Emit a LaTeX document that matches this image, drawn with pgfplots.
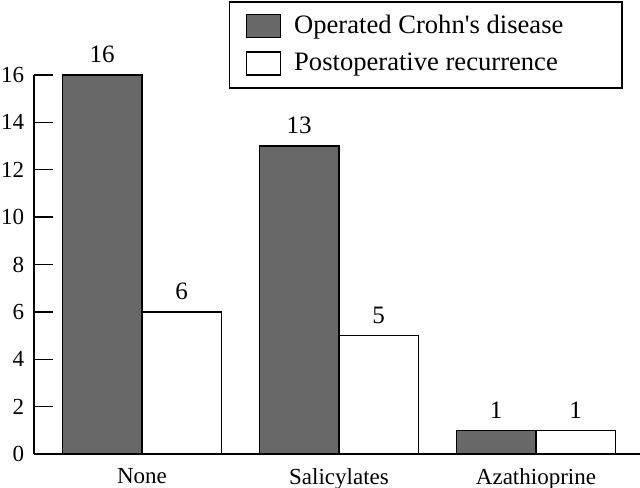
\documentclass[border=0pt]{standalone}
\usepackage{pgfplots}
\pgfplotsset{compat=1.18}
\usepackage{fontspec}
\setmainfont{Liberation Serif}[Ligatures=TeXOff]
\definecolor{darkbar}{RGB}{104,104,104}
\newcommand{\legfont}{\fontsize{13.3}{16}\selectfont}
\newcommand{\tickfont}{\fontsize{11.5}{14}\selectfont}
\newcommand{\valfont}{\fontsize{12.5}{15}\selectfont}
\pgfplotsset{boxlegend/.style={legend image code/.code={\draw[##1] (0pt,-5.75pt) rectangle (17pt,5.75pt);}}}
\begin{document}
\begin{tikzpicture}
\useasboundingbox (-17pt,-16.5pt) rectangle (303pt,227pt);
\begin{axis}[
  scale only axis, width=303pt, height=189.5pt,
  xmin=-0.548, xmax=2.528, ymin=0, ymax=16,
  axis x line*=bottom, axis y line*=left,
  axis line style={-, line width=0.75pt, black},
  ytick={0,2,...,16},
  xtick=data, xticklabels={None,Salicylates,Azathioprine},
  tick style={draw=none},
  tick align=inside, xtick align=inside, ytick align=inside,
  major tick length=9.5pt,
  yticklabel style={xshift=-1.45pt},
  xticklabel style={yshift=5.8pt},
  ticklabel style={font=\tickfont},
  /pgf/number format/assume math mode=true,
  ybar=0pt, bar width=39.75pt,
  nodes near coords,
  every node near coord/.append style={font=\valfont, yshift=2.3pt, black},
  clip=false,
  legend cell align=left,
  legend style={at={(rel axis cs:0.9719,1.1953)}, anchor=north east,
    draw=black, line width=0.8pt, inner xsep=8pt, inner ysep=6pt,
    row sep=6.5pt, column sep=6.5pt, nodes={inner sep=0pt}, font=\legfont},
]
\addplot[fill=darkbar, draw=black, line width=0.75pt, boxlegend]
  coordinates {(0,16) (1,13) (2,1)};
\addplot[fill=white, draw=black, line width=0.75pt, boxlegend]
  coordinates {(0,6) (1,5) (2,1)};
\legend{\makebox[156pt][l]{Operated Crohn's disease},\makebox[156pt][l]{Postoperative recurrence}}
\end{axis}
% overlay axis carrying the inward y tick marks
\begin{axis}[
  scale only axis, width=303pt, height=189.5pt,
  xmin=-0.548, xmax=2.528, ymin=0, ymax=16,
  axis line style={draw=none},
  xtick=\empty, ytick=\empty, clip=false,
]
\addplot[draw=none, mark=none,
  error bars/.cd, x dir=plus, x explicit, error mark=none,
  error bar style={draw=black, line width=0.75pt}]
  coordinates {
    (-0.548,0) +- (0.0964,0)
    (-0.548,2) +- (0.0964,0)
    (-0.548,4) +- (0.0964,0)
    (-0.548,6) +- (0.0964,0)
    (-0.548,8) +- (0.0964,0)
    (-0.548,10) +- (0.0964,0)
    (-0.548,12) +- (0.0964,0)
    (-0.548,14) +- (0.0964,0)
    (-0.548,16) +- (0.0964,0)
  };
\end{axis}
\end{tikzpicture}
\end{document}
